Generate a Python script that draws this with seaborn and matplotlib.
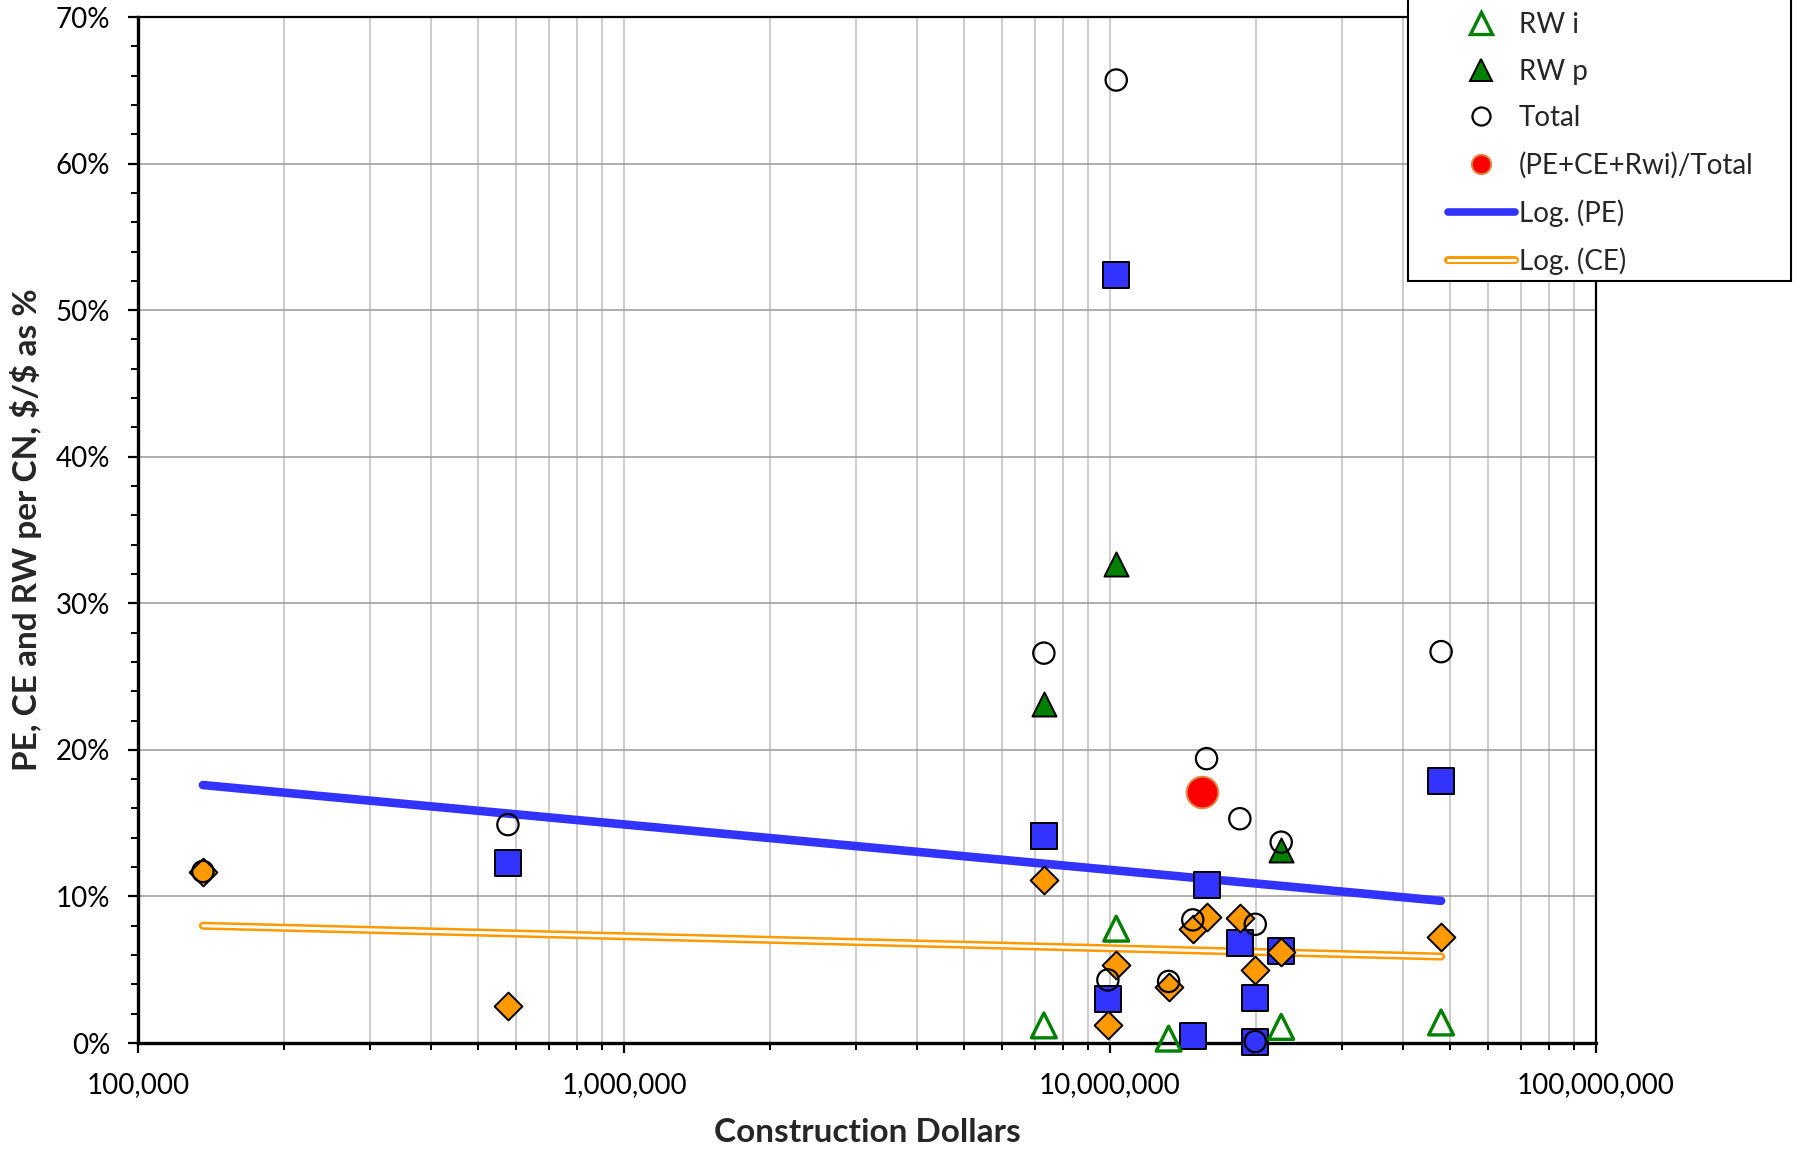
import numpy as np
import pandas as pd
import matplotlib
matplotlib.use("Agg")
import matplotlib.pyplot as plt
import matplotlib.patheffects as pe
import seaborn as sns
from matplotlib.lines import Line2D
from matplotlib.patches import Rectangle
from matplotlib.ticker import FuncFormatter, LogLocator, MultipleLocator, NullFormatter

# ---------------- data (values in % of construction dollars) ----------------
pe_x = [577e3, 7.31e6, 9.9e6, 10.3e6, 14.8e6, 15.8e6, 18.5e6, 19.9e6, 19.9e6, 22.5e6, 48e6]
pe_y = [12.3, 14.1, 3.0, 52.4, 0.5, 10.8, 6.8, 3.1, 0.1, 6.3, 17.9]

ce_x = [136e3, 577e3, 7.31e6, 9.9e6, 10.3e6, 13.2e6, 14.8e6, 15.8e6, 18.5e6, 19.9e6, 22.5e6, 48e6]
ce_y = [11.7, 2.5, 11.1, 1.2, 5.3, 3.8, 7.8, 8.6, 8.5, 5.0, 6.2, 7.2]

rwi_x = [7.31e6, 10.3e6, 13.2e6, 22.5e6, 48e6]
rwi_y = [1.2, 7.8, 0.3, 1.1, 1.4]

rwp_x = [7.31e6, 10.3e6, 22.5e6]
rwp_y = [23.1, 32.7, 13.2]

tot_x = [136e3, 577e3, 7.31e6, 9.9e6, 10.3e6, 13.2e6, 14.8e6, 15.8e6, 18.5e6, 19.9e6, 19.9e6, 22.5e6, 48e6]
tot_y = [11.7, 14.9, 26.6, 4.3, 65.7, 4.2, 8.4, 19.4, 15.3, 8.1, 0.1, 13.7, 26.7]

ratio_x = [15.45e6]
ratio_y = [17.1]

trend_x = [136e3, 48e6]
pe_trend = [17.6, 9.7]
ce_trend = [8.0, 5.9]

x_ticks = [1e5, 1e6, 1e7, 1e8]
y_ticks = [0, 10, 20, 30, 40, 50, 60, 70]

legend_labels = ["RW i", "RW p", "Total", "(PE+CE+Rwi)/Total", "Log. (PE)", "Log. (CE)"]

# ---------------- styling ----------------
sns.set_theme(style="white")
plt.rcParams["font.family"] = ["Lato", "DejaVu Sans"]

BLUE = "#3333FF"
ORANGE = "#FF9900"
GREEN = "#008000"
RED = "#FF0000"

W, H = 1797, 1155
fig = plt.figure(figsize=(W / 100, H / 100), dpi=100)
fig.patch.set_facecolor("white")
ax = fig.add_axes([138 / W, 1 - 1043 / H, (1596 - 138) / W, (1043 - 17) / H])
ax.set_facecolor("white")

ax.set_xscale("log")
ax.set_xlim(1e5, 1e8)
ax.set_ylim(0, 70)

ax.xaxis.set_major_locator(LogLocator(base=10, numticks=10))
ax.xaxis.set_minor_locator(LogLocator(base=10, subs=np.arange(2, 10), numticks=100))
ax.xaxis.set_minor_formatter(NullFormatter())
ax.set_xticks(x_ticks)
ax.xaxis.set_major_formatter(FuncFormatter(lambda v, p: f"{v:,.0f}"))
ax.set_yticks(y_ticks)
ax.yaxis.set_minor_locator(MultipleLocator(2))
ax.yaxis.set_major_formatter(FuncFormatter(lambda v, p: f"{v:.0f}%"))

ax.grid(True, which="major", axis="y", color="#9A9A9A", lw=1.1, zorder=0)
ax.grid(True, which="both", axis="x", color="#BFBFBF", lw=1.1, zorder=0)
ax.set_axisbelow(True)

# trend lines
ce_effects = [pe.Stroke(linewidth=5.8, foreground=ORANGE, capstyle="round"), pe.Normal()]
df_tr = pd.DataFrame({"x": trend_x, "pe": pe_trend, "ce": ce_trend})
sns.lineplot(data=df_tr, x="x", y="pe", ax=ax, color=BLUE, lw=6.2,
             solid_capstyle="round", zorder=2, legend=False)
sns.lineplot(data=df_tr, x="x", y="ce", ax=ax, color="white", lw=2.2,
             solid_capstyle="round", zorder=2, legend=False, path_effects=ce_effects)

# scatter series
common = dict(ax=ax, legend=False, clip_on=False)
sns.scatterplot(x=pe_x, y=pe_y, marker="s", s=340, color=BLUE,
                edgecolor="black", linewidth=1.4, zorder=3, **common)
sns.scatterplot(x=ce_x, y=ce_y, marker="D", s=200, color=ORANGE,
                edgecolor="black", linewidth=1.4, zorder=4, **common)
sns.scatterplot(x=rwi_x, y=rwi_y, marker="^", s=320, facecolor="none",
                edgecolor=GREEN, linewidth=2.4, zorder=5, **common)
sns.scatterplot(x=rwp_x, y=rwp_y, marker="^", s=300, color=GREEN,
                edgecolor="black", linewidth=1.4, zorder=5, **common)
sns.scatterplot(x=tot_x, y=tot_y, marker="o", s=235, facecolor="none",
                edgecolor="black", linewidth=1.6, zorder=6, **common)
sns.scatterplot(x=ratio_x, y=ratio_y, marker="o", s=520, color=RED,
                edgecolor="#E08A4A", linewidth=1.4, zorder=7, **common)

# spines / ticks
for side in ["left", "bottom"]:
    ax.spines[side].set_color("black")
    ax.spines[side].set_linewidth(2.4)
    ax.spines[side].set_zorder(2.5)
for side in ["top", "right"]:
    ax.spines[side].set_color("black")
    ax.spines[side].set_linewidth(1.6)

ax.tick_params(axis="both", which="major", direction="out", length=7, width=1.6,
               color="black", labelsize=20, labelcolor="black", left=True, bottom=True)
ax.tick_params(axis="both", which="minor", direction="out", length=5, width=1.4,
               color="black", left=True, bottom=True)
ax.tick_params(axis="y", which="major", pad=13)
ax.tick_params(axis="x", which="major", pad=14)

ax.set_xlabel("Construction Dollars", fontsize=24, fontweight="bold")
ax.set_ylabel(r"PE, CE and RW per CN, \$/\$ as %", fontsize=24, fontweight="bold")
ax.xaxis.set_label_coords(0.5, -0.073)
ax.yaxis.set_label_coords(-0.066, 0.5)

# legend box (top clipped by figure edge)
box = Rectangle((1408 / W, 1 - 281 / H), (1791 - 1408) / W, 310 / H,
                transform=fig.transFigure, facecolor="white", edgecolor="black",
                lw=1.5, zorder=4)
fig.add_artist(box)

handles = [
    Line2D([], [], ls="none", marker="^", ms=15.5, mfc="none", mec=GREEN, mew=2.4),
    Line2D([], [], ls="none", marker="^", ms=15.5, mfc=GREEN, mec="black", mew=1.4),
    Line2D([], [], ls="none", marker="o", ms=13, mfc="none", mec="black", mew=1.6),
    Line2D([], [], ls="none", marker="o", ms=14, mfc=RED, mec="#E08A4A", mew=1.4),
    Line2D([], [], color=BLUE, lw=5.5, solid_capstyle="round"),
    Line2D([], [], color="white", lw=2.2, solid_capstyle="round", path_effects=ce_effects),
]
fig.legend(handles, legend_labels, loc="upper left",
           bbox_to_anchor=(1448 / W, 1 - 12 / H), frameon=False, fontsize=20,
           handlelength=2.4, handletextpad=0.15, labelspacing=0.74, borderpad=0,
           borderaxespad=0)

fig.savefig("out.png", dpi=100, facecolor="white")
